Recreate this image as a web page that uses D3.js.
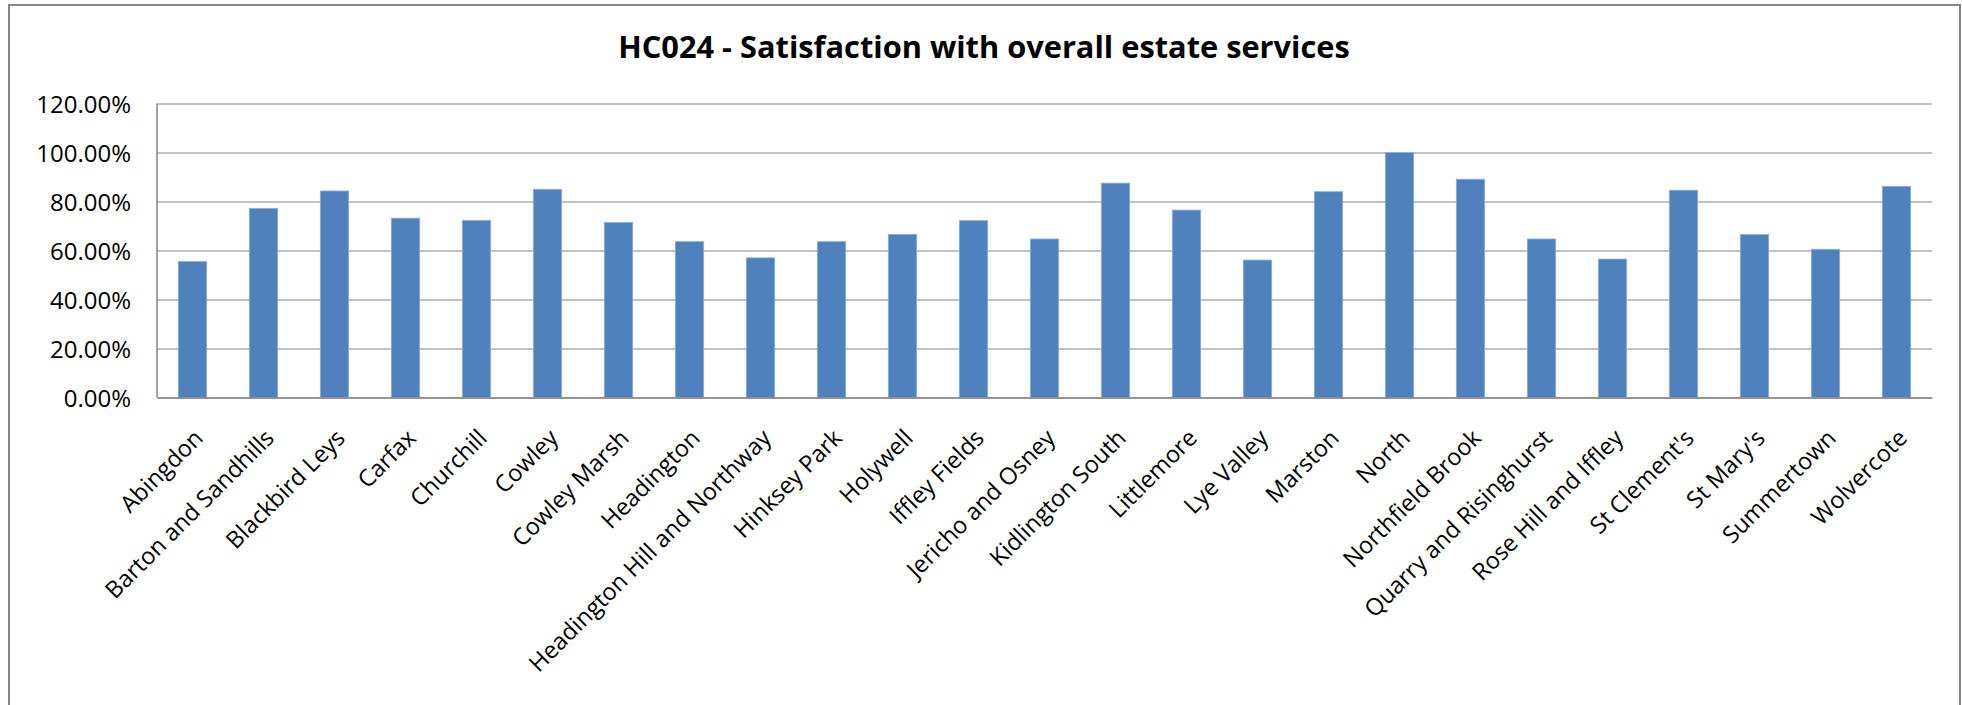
<!DOCTYPE html>
<html>
<head>
<meta charset="utf-8">
<script src="https://cdn.jsdelivr.net/npm/d3@7"></script>
<style>
  body { margin: 0; background: #ffffff; }
  .chart text { font-family: "Open Sans", "Noto Sans", sans-serif; fill: #000000; }
  .grid line { stroke: #868686; stroke-width: 1.2; }
  .grid .domain { display: none; }
  .axis .domain { stroke: #868686; stroke-width: 1.5; }
</style>
</head>
<body>
<svg class="chart" width="1962" height="705"></svg>
<script>
// chart data
var categories = ["Abingdon", "Barton and Sandhills", "Blackbird Leys", "Carfax", "Churchill",
  "Cowley", "Cowley Marsh", "Headington", "Headington Hill and Northway", "Hinksey Park",
  "Holywell", "Iffley Fields", "Jericho and Osney", "Kidlington South", "Littlemore",
  "Lye Valley", "Marston", "North", "Northfield Brook", "Quarry and Risinghurst",
  "Rose Hill and Iffley", "St Clement's", "St Mary's", "Summertown", "Wolvercote"];
var satisfaction = [0.555, 0.772, 0.843, 0.732, 0.723, 0.850, 0.714, 0.636, 0.570, 0.636,
  0.666, 0.722, 0.647, 0.875, 0.765, 0.561, 0.840, 1.000, 0.891, 0.647,
  0.565, 0.846, 0.665, 0.605, 0.862];
var yTicks = [0, 0.2, 0.4, 0.6, 0.8, 1.0, 1.2];
var chartTitle = "HC024 - Satisfaction with overall estate services";

var svg = d3.select(".chart");

// outer chart border
svg.append("rect")
  .attr("x", 9)
  .attr("y", 5)
  .attr("width", 1951)
  .attr("height", 760)
  .attr("fill", "#ffffff")
  .attr("stroke", "#868686")
  .attr("stroke-width", 2);

var plot = { left: 157, right: 1932, top: 103.5, bottom: 397.5 };

var x = d3.scaleBand()
  .domain(categories)
  .range([plot.left, plot.right])
  .paddingInner(0.6)
  .paddingOuter(0.3);

var y = d3.scaleLinear()
  .domain([0, 1.2])
  .range([plot.bottom, plot.top]);

// gridlines
svg.append("g")
  .attr("class", "grid")
  .attr("transform", "translate(" + [plot.left, 0] + ")")
  .call(d3.axisLeft(y).tickValues(yTicks).tickSize(-(plot.right - plot.left)).tickFormat(""));

// bars
svg.append("g")
  .selectAll("rect")
  .data(satisfaction)
  .enter().append("rect")
  .attr("x", function(d, i) { return x(categories[i]); })
  .attr("y", function(d) { return y(d); })
  .attr("width", x.bandwidth())
  .attr("height", function(d) { return y(0) - y(d); })
  .attr("fill", "#4f81bd")
  .attr("stroke", "#8fb0d8")
  .attr("stroke-width", 0.8);

// y axis
var yAxis = svg.append("g")
  .attr("class", "axis")
  .attr("transform", "translate(" + [plot.left, 0] + ")")
  .call(d3.axisLeft(y).tickValues(yTicks).tickSize(0).tickPadding(26).tickFormat(d3.format(".2%")));
yAxis.select(".domain").attr("d", "M0," + y(0) + "V" + y(1.2));
yAxis.selectAll("text")
  .attr("font-size", "24px")
  .attr("dy", "0.36em");

// x axis with rotated labels
var xAxis = svg.append("g")
  .attr("class", "axis")
  .attr("transform", "translate(" + [0, plot.bottom] + ")")
  .call(d3.axisBottom(x).tickSize(0).tickFormat(function(d) { return d; }));
xAxis.selectAll("text")
  .attr("font-size", "23.5px")
  .attr("text-anchor", "end")
  .attr("y", 0)
  .attr("dy", 0)
  .attr("transform", "translate(" + [12, 42] + ") rotate(-45)");

// title, squeezed to the width it has in the reference
var title = svg.append("text")
  .attr("x", 984)
  .attr("y", 58)
  .attr("text-anchor", "middle")
  .attr("font-weight", "bold")
  .attr("font-size", "32px")
  .text(chartTitle);
var tw = title.node().getComputedTextLength();
title.attr("font-size", (32 * 732 / tw) + "px");
</script>
</body>
</html>
